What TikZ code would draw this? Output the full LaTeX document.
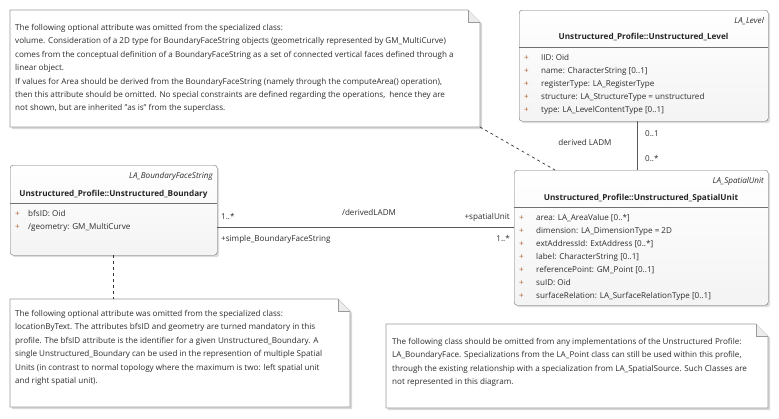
\documentclass[tikz,border=0pt]{standalone}
\usepackage{fontspec}
\setmainfont{Open Sans}
\usetikzlibrary{shadows,calc}
\definecolor{txt}{HTML}{2C2C2C}
\definecolor{plus}{HTML}{B0602C}
\definecolor{edge}{HTML}{707070}
\definecolor{notebd}{HTML}{9A9A9A}
\newcommand{\fs}{\fontsize{8.1}{13.4}\selectfont}
\newcommand{\fsb}{\fontsize{8.2}{13.4}\selectfont}
\tikzset{
  classbox/.style={draw=edge, rounded corners=3pt, top color=white, bottom color=gray!9,
    drop shadow={shadow xshift=2pt, shadow yshift=-2pt, fill=gray!45, opacity=.6},
    anchor=north west, inner sep=0pt},
  notetext/.style={anchor=north west, align=left, inner sep=0pt, text=txt, font=\fs},
  stereo/.style={anchor=base east, inner sep=0pt, text=txt, font=\fs\itshape},
  cname/.style={anchor=base, inner sep=0pt, text=black!85, font=\fsb\bfseries},
  attr/.style={anchor=base west, inner sep=0pt, text=txt, font=\fs},
  pl/.style={anchor=base west, inner sep=0pt, text=plus, font=\fs},
  lbl/.style={inner sep=0pt, text=txt, font=\fs},
  conn/.style={draw=black!65, line width=0.6pt},
  dashconn/.style={draw=black!80, line width=0.7pt, dash pattern=on 3pt off 3pt},
  noteshape/.style={draw=notebd, fill=white, line width=0.6pt,
    drop shadow={shadow xshift=2pt, shadow yshift=-2pt, fill=gray!50, opacity=.6}},
}
\begin{document}
\begin{tikzpicture}[x=1pt,y=-1pt]
\useasboundingbox (0,0) rectangle (779,418);
% ---------- note 1 ----------
\coordinate (n1nw) at (10,10);
\coordinate (n1se) at (480,127);
\filldraw[noteshape] (10,10) -- (468,10) -- (480,22) -- (480,127) -- (10,127) -- cycle;
\draw[notebd, fill=gray!15, line width=0.6pt] (468,10) -- (468,22) -- (480,22);
\node[notetext] (n1) at (15,24) {The following optional attribute was omitted from the specialized class:\\
volume. Consideration of a 2D type for BoundaryFaceString objects (geometrically represented by GM\_MultiCurve)\\
comes from the conceptual definition of a BoundaryFaceString as a set of connected vertical faces defined through a\\
linear object.\\
If values for Area should be derived from the BoundaryFaceString (namely through the computeArea() operation),\\
then this attribute should be omitted. No special constraints are defined regarding the operations,\ \ hence they are\\
not shown, but are inherited "as is" from the superclass.};
% ---------- note 2 ----------
\filldraw[noteshape] (10,299) -- (338,299) -- (350,311) -- (350,407) -- (10,407) -- cycle;
\draw[notebd, fill=gray!15, line width=0.6pt] (338,299) -- (338,311) -- (350,311);
\coordinate (n2top) at (113,299);
\node[notetext] (n2) at (15,310) {The following optional attribute was omitted from the specialized class:\\
locationByText. The attributes bfsID and geometry are turned mandatory in this\\
profile. The bfsID attribute is the identifier for a given Unstructured\_Boundary. A\\
single Unstructured\_Boundary can be used in the represention of multiple Spatial\\
Units (in contrast to normal topology where the maximum is two: left spatial unit\\
and right spatial unit).};
% ---------- note 3 ----------
\filldraw[noteshape] (386,324) -- (756,324) -- (768,336) -- (768,408) -- (386,408) -- cycle;
\draw[notebd, fill=gray!15, line width=0.6pt] (756,324) -- (756,336) -- (768,336);
\node[notetext] (n3) at (392,338) {The following class should be omitted from any implementations of the Unstructured Profile:\\
LA\_BoundaryFace. Specializations from the LA\_Point class can still be used within this profile,\\
through the existing relationship with a specialization from LA\_SpatialSource. Such Classes are\\
not represented in this diagram.};
% ---------- class Level ----------
\node[classbox, minimum width=249pt, minimum height=111pt] (lvl) at (519,10) {};
\draw[edge] (519,47) -- (768,47);
\node[stereo] (lvlst) at (764,23) {LA\_Level};
\node[cname] (lvlnm) at (643.5,39) {Unstructured\_Profile::Unstructured\_Level};
\foreach \t [count=\i] in {IID: Oid, name: CharacterString [0..1], registerType: LA\_RegisterType,
  structure: LA\_StructureType = unstructured, type: LA\_LevelContentType [0..1]}{
  \node[pl] (lvlp\i) at (524,60+13*\i-13) {+};
  \node[attr] (lvla\i) at (541,60+13*\i-13) {\t};
}
% ---------- class SpatialUnit ----------
\node[classbox, minimum width=254pt, minimum height=135pt] (su) at (514,170) {};
\draw[edge] (514,207) -- (768,207);
\node[stereo] (sust) at (764,183) {LA\_SpatialUnit};
\node[cname] (sunm) at (641,200) {Unstructured\_Profile::Unstructured\_SpatialUnit};
\foreach \t [count=\i] in {area: LA\_AreaValue [0..*], dimension: LA\_DimensionType = 2D,
  extAddressId: ExtAddress [0..*], label: CharacterString [0..1], referencePoint: GM\_Point [0..1],
  suID: Oid, surfaceRelation: LA\_SurfaceRelationType [0..1]}{
  \node[pl] (sup\i) at (519,220+13*\i-13) {+};
  \node[attr] (sua\i) at (536,220+13*\i-13) {\t};
}
% ---------- class Boundary ----------
\node[classbox, minimum width=207pt, minimum height=90pt] (bnd) at (10,165) {};
\draw[edge] (10,203) -- (217,203);
\node[stereo] (bndst) at (213,178) {LA\_BoundaryFaceString};
\node[cname] (bndnm) at (113.5,196) {Unstructured\_Profile::Unstructured\_Boundary};
\foreach \t [count=\i] in {bfsID: Oid, /geometry: GM\_MultiCurve}{
  \node[pl] (bndp\i) at (15,216+13*\i-13) {+};
  \node[attr] (bnda\i) at (28,216+13*\i-13) {\t};
}
% ---------- connectors ----------
\coordinate (lvlsu) at (637,0);
\draw[conn] (lvl.south -| lvlsu) -- (su.north -| lvlsu);
\node[lbl, anchor=base west] (m01) at (645,136) {0..1};
\node[lbl, anchor=base west] (m0s) at (645,161) {0..*};
\node[lbl, anchor=base] (dladm) at (585,145) {derived LADM};

\coordinate (asy) at (0,227);
\draw[conn] (bnd.east |- asy) -- (su.west |- asy);
\node[lbl, anchor=base west] (m1a) at (221,219) {1..*};
\node[lbl, anchor=base] (dl2) at (369,215) {/derivedLADM};
\node[lbl, anchor=base east] (rsu) at (510,219) {+spatialUnit};
\node[lbl, anchor=base west] (rbf) at (221,241) {+simple\_BoundaryFaceString};
\node[lbl, anchor=base east] (m1b) at (510,241) {1..*};

\coordinate (sutop) at (555,0);
\draw[dashconn] (n1se) -- (su.north -| sutop);
\coordinate (bndx) at (113,0);
\draw[dashconn] (bnd.south -| bndx) -- (n2top);
\end{tikzpicture}
\end{document}
